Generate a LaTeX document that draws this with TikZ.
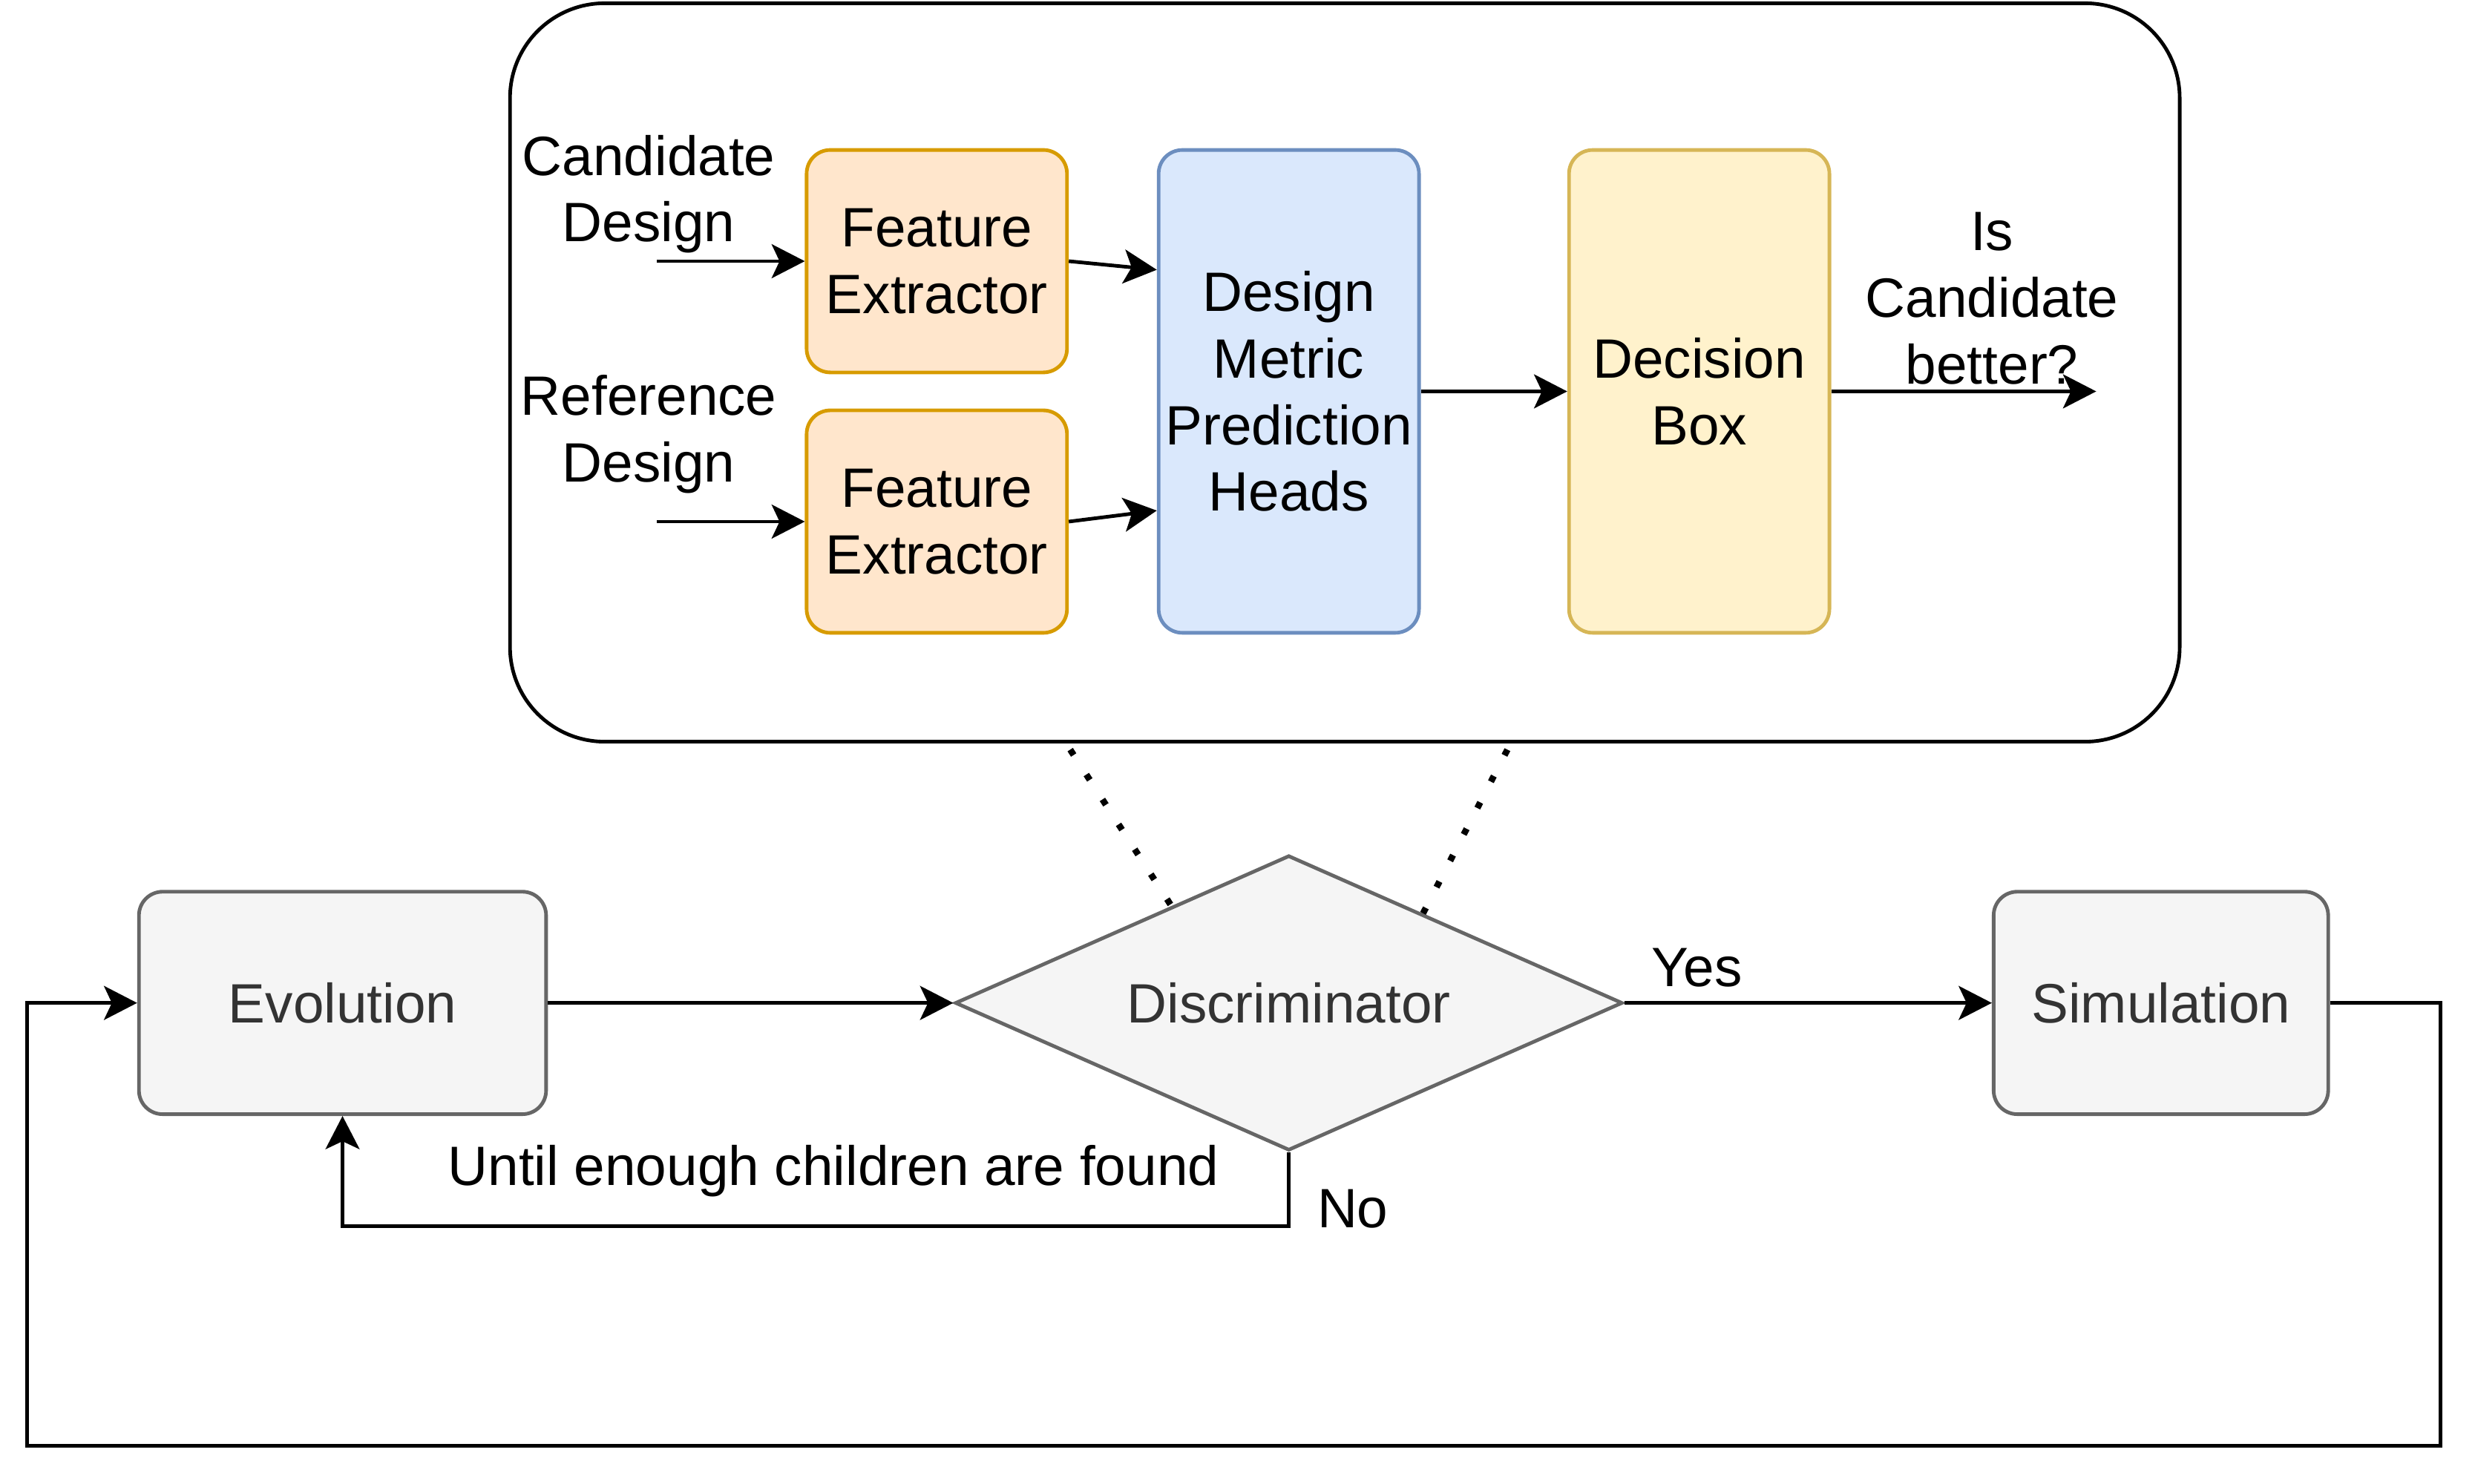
\documentclass[tikz,border=0pt]{standalone}
\usepackage{fontspec}
\setmainfont{Liberation Sans}
\usetikzlibrary{positioning, shapes.geometric, arrows.meta, calc}

\definecolor{feFill}{HTML}{FFE6CC}
\definecolor{feLine}{HTML}{D79B00}
\definecolor{headFill}{HTML}{DAE8FC}
\definecolor{headLine}{HTML}{6C8EBF}
\definecolor{boxFill}{HTML}{FFF2CC}
\definecolor{boxLine}{HTML}{D6B656}
\definecolor{stepFill}{HTML}{F5F5F5}
\definecolor{stepLine}{HTML}{666666}
\definecolor{stepText}{HTML}{333333}

\begin{document}
\begin{tikzpicture}[
  x=0.02cm, y=-0.02cm,
  font=\fontsize{20}{24}\selectfont,
  line width=1.3pt,
  >={Stealth[length=0.42cm, width=0.43cm, inset=0.1cm]},
  block/.style={
    draw=#1Line, fill=#1Fill, rounded corners=0.3cm,
    minimum width=3.3cm, align=center, inner sep=0pt
  },
  stepbox/.style={
    draw=stepLine, fill=stepFill, text=stepText, rounded corners=0.3cm,
    minimum height=2.82cm, inner sep=0pt
  },
  flow/.style={->, black},
  zoomline/.style={black, line width=2.3pt, dash pattern=on 2.3pt off 8.4pt}
]

% fixes the page to the reference size
\useasboundingbox (0,0) rectangle (1568,940);

% ── Discriminator internals (top frame) ──────────────────────────────────────
\node[draw, rounded corners=1.2cm, minimum width=21.16cm, minimum height=9.36cm]
  (frame) at (852,236) {};

\node[block=fe, minimum height=2.82cm] (fe1) at (593.5,165.5) {Feature\\Extractor};
\node[block=fe, minimum height=2.82cm] (fe2) at (593.5,330.5) {Feature\\Extractor};
\node[block=head, minimum height=6.12cm] (heads) at (816.5,248)
  {Design\\Metric\\Prediction\\Heads};
\node[block=box, minimum height=6.12cm] (decide) at (1076.5,248) {Decision\\Box};

\node[align=center] (candlab) at (411,123) {Candidate\\Design};
\node[align=center] (reflab) at (411,275) {Reference\\Design};
\node[align=center] (outlab) at (1262,189) {Is\\Candidate\\better?};

\coordinate (candIn) at (416,165.5);
\coordinate (refIn) at (416,330.5);
\coordinate (verdict) at (1328,248);

\draw[flow] (candIn) -- (fe1.west);
\draw[flow] (refIn) -- (fe2.west);
\draw[flow] (fe1.east) -- ($(heads.north west)!0.25!(heads.south west)$);
\draw[flow] (fe2.east) -- ($(heads.north west)!0.745!(heads.south west)$);
\draw[flow] (heads.east) -- (decide.west);
\draw[flow] (decide.east) -- (verdict);

% ── Search loop (bottom) ─────────────────────────────────────────────────────
\node[stepbox, minimum width=5.16cm] (evo) at (217,635.5) {Evolution};
\node[diamond, draw=stepLine, fill=stepFill, text=stepText, shape aspect=2.26,
  minimum width=8.46cm, minimum height=3.74cm, inner sep=0pt]
  (disc) at (816.5,635.5) {Discriminator};
\node[stepbox, minimum width=4.24cm] (sim) at (1369,635.5) {Simulation};

\draw[flow] (evo.east) -- (disc.west);
\draw[flow] (disc.east) -- (sim.west);
\node (yes) at (1075,613) {Yes};

\draw[flow] (disc.south) -- ++(0,47) -| (evo.south);
\node (no) at (857,766) {No};
\node (untillab) at (528,742) {Until enough children are found};

\coordinate (loopR) at (1546,916);
\coordinate (loopL) at (17,916);
\draw[flow] (sim.east) -| (loopR) -- (loopL) |- (evo.west);

% ── Zoom lines between frame and discriminator ───────────────────────────────
\coordinate (zoomL) at (678,475);
\coordinate (zoomR) at (955,475);
\draw[zoomline] (zoomL) -- ($(disc.north)!0.35!(disc.west)$);
\draw[zoomline] (zoomR) -- ($(disc.north)!0.4!(disc.east)$);

\end{tikzpicture}
\end{document}
